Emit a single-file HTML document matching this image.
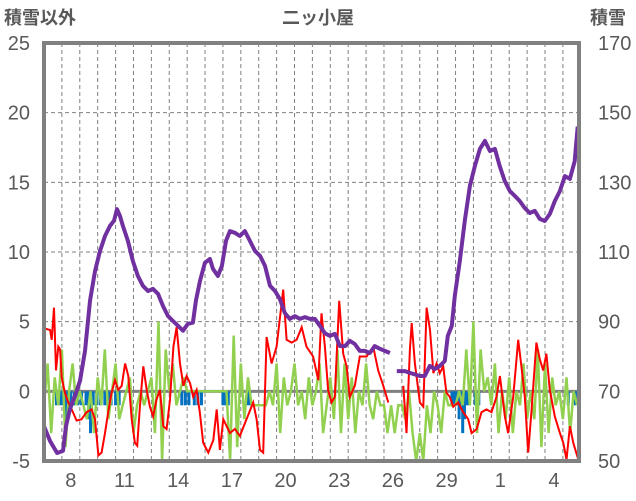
<!DOCTYPE html>
<html><head><meta charset="utf-8">
<style>
html,body{margin:0;padding:0;background:#fff;}
svg{display:block;font-family:"Liberation Sans","Noto Sans CJK JP",sans-serif;}
</style></head>
<body>
<svg id="chart" width="636" height="501" viewBox="0 0 636 501" xmlns="http://www.w3.org/2000/svg">
<g id="grid"></g>
<g id="bars"></g>
<g id="lines"></g>
<rect x="44" y="43" width="535" height="418" fill="none" stroke="#808080" stroke-width="4"/>
<g id="labels" fill="#595959"></g>
<text x="318" y="24" font-size="18" font-weight="bold" fill="#595959" text-anchor="middle">二ッ小屋</text>
<text x="4" y="24" font-size="18" font-weight="bold" fill="#595959">積雪以外</text>
<text x="590" y="24" font-size="18" font-weight="bold" fill="#595959">積雪</text>
</svg>
<script>
const xLabels=["8","11","14","17","20","23","26","29","1","4"];
const xLabelDays=[1,4,7,10,13,16,19,22,25,28];
const leftTicks=[-5,0,5,10,15,20,25];
const rightTicks=[50,70,90,110,130,150,170];
const snowDays=[0,.34,.73,1.06,1.23,1.45,1.73,2.01,2.29,2.57,2.85,3.13,3.41,3.69,3.91,4.08,4.25,4.41,4.69,4.97,5.25,5.53,5.81,6.09,6.37,6.65,6.93,7.21,7.49,7.77,8.04,8.32,8.49,8.72,8.99,9.27,9.44,9.72,9.94,10.17,10.39,10.67,10.95,11.23,11.51,11.79,12.07,12.35,12.63,12.91,13.18,13.46,13.74,14.02,14.3,14.58,14.86,15.14,15.42,15.7,15.98,16.26,16.54,16.82,17.09,17.37,17.65,17.93,18.21,18.49,18.77,19.05,19.33,19.5,19.72,20.17,20.45,21.01,21.28,21.56,21.84,22.12,22.4,22.57,22.79,22.96,23.24,23.52,23.8,24.08,24.36,24.64,24.92,25.2,25.47,25.75,26.03,26.31,26.59,26.87,27.15,27.43,27.71,27.99,28.27,28.55,28.83,29.11,29.39,29.66,29.83];
const snowDepth=[60,55.7,52.3,52.9,60,64.9,68.7,73,81.6,96,104.5,110.3,114.6,117.5,119,122.3,120.3,117.5,113.2,107.4,103.1,100.3,98.8,99.4,98,94.5,91.6,90.2,88.8,87.4,89.4,89.7,96,101.7,106.9,108,105.2,103.1,106,113.2,116,115.5,114.6,116,113.2,110.3,108.9,106,100.3,98.8,96.5,92.5,90.8,91.6,90.8,91.3,90.8,90.8,88.8,86.7,85.9,86.5,83,83,84.5,83.6,81.6,81.6,81,83,82.2,81.6,81,null,75.8,75.8,75.3,74.4,74.4,77.3,76.4,77.3,78.7,85.9,88.8,97.4,107.4,119,129,134.7,139.6,141.9,139,139.6,134.7,130.4,127.5,126.1,124.6,122.6,121.2,121.8,119.5,118.9,120.9,124.6,127.5,131.8,131,136.1,146];
const tempDays=[0.06,.34,.43,.56,.67,.8,.9,.99,1.17,1.36,1.55,1.82,2.1,2.38,2.66,2.85,3.04,3.22,3.41,3.59,3.78,3.97,4.15,4.34,4.53,4.71,4.9,5.08,5.21,5.36,5.55,5.74,5.92,6.1,6.29,6.48,6.67,6.85,7.04,7.23,7.41,7.6,7.79,7.97,8.16,8.34,8.53,8.71,8.9,9.18,9.46,9.65,9.83,10.02,10.39,10.67,10.95,11.32,11.69,11.88,12.07,12.25,12.44,12.72,13,13.37,13.56,13.84,14.12,14.4,14.67,15.04,15.33,15.51,15.7,15.88,16.07,16.25,16.5,16.72,16.91,17.09,17.37,17.65,18.03,18.4,18.68,18.96,19.24,19.6,20.08,20.26,20.45,20.55,20.73,21.01,21.2,21.38,21.57,21.76,21.94,22.12,22.31,22.49,22.68,22.87,23.15,23.43,23.71,23.9,24.18,24.45,24.73,25.01,25.29,25.48,25.76,25.94,26.22,26.5,26.68,26.87,27.06,27.24,27.52,27.71,27.9,28.08,28.27,28.55,28.83,29.02,29.2,29.39,29.58,29.86];
const tempVals=[4.5,4.4,3.7,6,1.5,3.2,3,1,-.1,-.8,-1.3,-2.1,-2,-1.5,-1.3,-2,-4.6,-4.4,-3,-1.5,-.1,.8,.1,.4,2,1.1,-2,-3.7,-3.9,-1.1,1.8,.1,-1.1,-1.8,-.6,.1,-2.5,-2.7,-.6,3.2,4.6,2,.4,1.1,.6,-.4,.1,-1.5,-3.7,-4.4,-3.5,-1.3,-4.2,-2,-3,-2.7,-3.2,-2,-.8,-2,-4.2,-4.4,3.9,2,3.2,7.3,3.7,3.5,3.7,4.6,3.2,2.5,.8,5.6,3.2,.1,-.8,-.4,6.5,2.7,1.8,-.4,.4,2.5,2.5,3.2,1.5,.4,-.8,null,.4,-3,3,4.9,2,-.8,-1.1,6,4.4,1.3,2,1.3,1.8,-.1,-.4,-1.1,-.8,-1.5,-2,-3,-2.7,-1.5,-1.3,-1.5,-.4,1.1,-1.8,-3,-.4,3.7,1.8,-.4,-4.4,-1.5,3.5,2.3,1.5,2.7,.1,-1.8,-3,-3.7,-4.9,-2.5,-3.7,-4.9];
const greenVals=[-1,2,-3,1,-1,3,-4,0,2,-1, 0,-1,-2,0,-3,1,-1,3,-2,0, 2,-2,-1,0,1,-3,-1,0,-1,0, 1,-3,5,-5,3,0,2,-1,0,1, 0,0,0,0,0,0,0,0,0,0, 0,0,-5,4,-4,2,-2,1,-1,-1, -1,-1,-1,0,-1,2,-3,1,-1,0, 2,-1,0,-2,1,-1,0,2,-3,-1, 1,-2,3,-3,2,-2,1,-3,0,-1, 2,-1,-2,0,-1,-1,-3,-1,-3,-1, -1,-2,0,-3,-5,-3,-5,-1,-3,0, -1,-3,0,-1,-1,-1,0,-1,3,-1, 5,-3,3,0,1,-1,2,-3,0,-2, 1,-3,0,-1,2,-2,0,-2,3,-4, 2,-3,1,-1,0,-2,1,-3,0,-1];
const greenStep=0.2;
const blueDays=[.7,.9,1.05,1.2,1.35,1.5,1.7,1.9,2.1,2.35,2.5,2.6,2.75,2.95,3.15,3.4,3.6,3.75,4.0,4.2,7.7,7.9,8.1,8.4,8.6,8.8,10.0,10.15,10.3,11.35,11.5,22.8,22.95,23.1,23.2,23.3,23.4,23.5,23.6,23.75,24.1,24.3,29.3,29.7];
const blueVals=[-1,-1,-1,-2,-1,-1,-1,-1,-1,-1,-2,-3,-1,-1,-1,-1,-1,-1,-1,-1,-1,-1,-1,-1,-1,-1,-1,-1,-1,-1,-1,-1,-1,-1,-2,-1,-3,-2,-1,-1,-1,-1,-1,-1];

const X0=44,X1=579,Y0=43,Y1=461,DAYS=29.9;
const x=t=>X0+t*(X1-X0)/DAYS;
const yL=v=>Y1-(v+5)*(Y1-Y0)/30;
const yR=v=>Y1-(v-50)*(Y1-Y0)/120;
const NS="http://www.w3.org/2000/svg";
function mk(tag,parent){const e=document.createElementNS(NS,tag);parent.appendChild(e);return e;}
const grid=document.getElementById('grid'),bars=document.getElementById('bars'),lines=document.getElementById('lines'),labels=document.getElementById('labels');

for(let d=1;d<DAYS;d++){
  const l=mk('line',grid);
  
  
  l.setAttribute('x1',x(d));l.setAttribute('x2',x(d));l.setAttribute('y1',Y0);l.setAttribute('y2',Y1);
  l.setAttribute('stroke','#808080');l.setAttribute('stroke-width','1');l.setAttribute('stroke-dasharray','4,3');
}
leftTicks.forEach((v,i)=>{
  if(v>-5&&v<25&&v!==0){
    const l=mk('line',grid);
    
    
    l.setAttribute('x1',X0);l.setAttribute('x2',X1);l.setAttribute('y1',yL(v));l.setAttribute('y2',yL(v));
    l.setAttribute('stroke','#808080');l.setAttribute('stroke-width','1');l.setAttribute('stroke-dasharray','4,3');
  }
  const t=mk('text',labels);
  
  
  t.setAttribute('x',30);t.setAttribute('y',yL(v)+7);t.setAttribute('text-anchor','end');t.setAttribute('font-size','20');
  t.textContent=v;
  const r=mk('text',labels);
  
  
  r.setAttribute('x',598);r.setAttribute('y',yR(rightTicks[i])+7);r.setAttribute('font-size','20');
  r.textContent=rightTicks[i];
});
xLabels.forEach((s,i)=>{
  const t=mk('text',labels);
  
  
  t.setAttribute('x',x(xLabelDays[i]+0.5));t.setAttribute('y',487);t.setAttribute('text-anchor','middle');t.setAttribute('font-size','20');
  t.textContent=s;
});
const zero=mk('line',grid);


zero.setAttribute('x1',X0);zero.setAttribute('x2',X1);zero.setAttribute('y1',yL(0));zero.setAttribute('y2',yL(0));
zero.setAttribute('stroke','#808080');zero.setAttribute('stroke-width','3');

blueDays.forEach((d,i)=>{
  const r=mk('rect',bars);
  
  
  const y0=yL(0),y1=yL(blueVals[i]);
  r.setAttribute('x',x(d)-1.5);r.setAttribute('width',3);r.setAttribute('y',Math.min(y0,y1));r.setAttribute('height',Math.abs(y1-y0));
  r.setAttribute('fill','#0070C0');
});

function path(xs,ys,fx,fy){
  let d='',pen=false;
  for(let i=0;i<ys.length;i++){
    if(ys[i]===null){pen=false;continue;}
    d+=(pen?'L':'M')+fx(xs[i]).toFixed(1)+','+fy(ys[i]).toFixed(1);pen=true;
  }
  return d;
}
const greenDays=greenVals.map((v,i)=>i*greenStep);
const g=mk('path',lines);


g.setAttribute('d',path(greenDays,greenVals,x,yL));
g.setAttribute('fill','none');g.setAttribute('stroke','#92D050');g.setAttribute('stroke-width','2.5');
const r=mk('path',lines);


r.setAttribute('d',path(tempDays,tempVals,x,yL));
r.setAttribute('fill','none');r.setAttribute('stroke','#FF0000');r.setAttribute('stroke-width','2');
const p=mk('path',lines);


p.setAttribute('d',path(snowDays,snowDepth,x,yR));
p.setAttribute('fill','none');p.setAttribute('stroke','#7030A0');p.setAttribute('stroke-width','4');p.setAttribute('stroke-linejoin','round');
</script>
</body></html>
